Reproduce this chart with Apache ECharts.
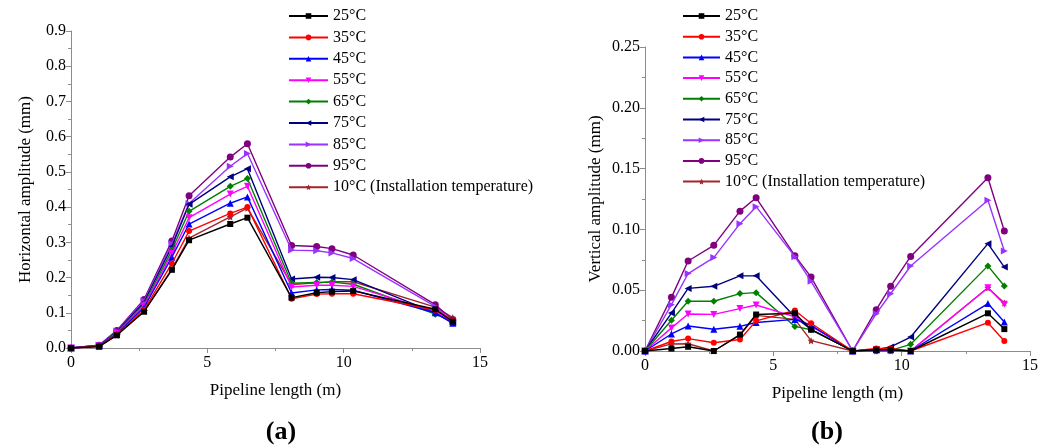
<!DOCTYPE html>
<html>
<head>
<meta charset="utf-8">
<script src="https://cdn.jsdelivr.net/npm/echarts@6/dist/echarts.min.js"></script>
<style>
html,body{margin:0;padding:0;background:#fff;}
#c{width:1041px;height:445px;}
</style>
</head>
<body>
<div id="c"></div>
<script>
// Pipeline positions (m)
var positions = [0, 1.03, 1.68, 2.68, 3.7, 4.33, 5.84, 6.47, 8.09, 9.01, 9.57, 10.35, 13.36, 14.0];
var seriesNames = ['25°C','35°C','45°C','55°C','65°C','75°C','85°C','95°C','10°C (Installation temperature)'];

// (a) Horizontal amplitude (mm)
var h25 = [0, 0.004, 0.036, 0.103, 0.222, 0.306, 0.352, 0.370, 0.143, 0.157, 0.160, 0.162, 0.110, 0.075];
var h35 = [0, 0.005, 0.038, 0.108, 0.240, 0.332, 0.382, 0.400, 0.140, 0.153, 0.154, 0.154, 0.108, 0.078];
var h45 = [0, 0.006, 0.040, 0.115, 0.258, 0.352, 0.411, 0.429, 0.156, 0.165, 0.166, 0.164, 0.100, 0.070];
var h55 = [0, 0.006, 0.042, 0.120, 0.268, 0.370, 0.437, 0.459, 0.173, 0.178, 0.178, 0.175, 0.104, 0.075];
var h65 = [0, 0.007, 0.044, 0.125, 0.278, 0.388, 0.459, 0.481, 0.184, 0.186, 0.187, 0.181, 0.096, 0.075];
var h75 = [0, 0.007, 0.046, 0.130, 0.288, 0.408, 0.486, 0.509, 0.196, 0.201, 0.200, 0.194, 0.100, 0.072];
var h85 = [0, 0.008, 0.048, 0.134, 0.296, 0.410, 0.516, 0.552, 0.278, 0.276, 0.270, 0.254, 0.118, 0.074];
var h95 = [0, 0.008, 0.050, 0.138, 0.304, 0.432, 0.542, 0.580, 0.291, 0.288, 0.282, 0.264, 0.123, 0.080];
var h10 = [0, 0.005, 0.037, 0.105, 0.224, 0.312, 0.372, 0.397, 0.180, 0.185, 0.188, 0.188, 0.116, 0.086];

// (b) Vertical amplitude (mm)
var v25 = [0, 0.0020, 0.0035, 0, 0.0135, 0.0300, 0.0310, 0.0175, 0, 0.0010, 0.0010, 0, 0.0310, 0.0180];
var v35 = [0, 0.0078, 0.0102, 0.0068, 0.0095, 0.0248, 0.0333, 0.0228, 0, 0.0020, 0.0020, 0, 0.0233, 0.0082];
var v45 = [0, 0.0140, 0.0206, 0.0179, 0.0203, 0.0234, 0.0260, 0.0210, 0, 0.0010, 0.0010, 0, 0.0390, 0.0238];
var v55 = [0, 0.0190, 0.0304, 0.0301, 0.0349, 0.0378, 0.0280, 0.0205, 0, 0.0010, 0, 0, 0.0520, 0.0385];
var v65 = [0, 0.0253, 0.0409, 0.0409, 0.0472, 0.0480, 0.0202, 0.0175, 0, 0, 0.0005, 0.0055, 0.0700, 0.0535];
var v75 = [0, 0.0312, 0.0515, 0.0532, 0.0618, 0.0618, 0.0280, 0.0178, 0, 0.0010, 0.0033, 0.0115, 0.0883, 0.0690];
var v85 = [0, 0.0381, 0.0637, 0.0768, 0.1047, 0.1187, 0.0776, 0.0573, 0, 0.0307, 0.0471, 0.0699, 0.1240, 0.0822];
var v95 = [0, 0.0441, 0.0740, 0.0869, 0.1150, 0.1260, 0.0784, 0.0608, 0, 0.0340, 0.0532, 0.0778, 0.1425, 0.0987];
var v10 = [0, 0.0058, 0.0060, 0, 0.0130, 0.0293, 0.0260, 0.0085, 0, 0, 0, 0, 0.0520, 0.0395];

var hTicks = [0, 0.1, 0.2, 0.3, 0.4, 0.5, 0.6, 0.7, 0.8, 0.9];
var vTicks = [0, 0.05, 0.10, 0.15, 0.20, 0.25];
var xTicks = [0, 5, 10, 15];

var hData = [h25,h35,h45,h55,h65,h75,h85,h95,h10];
var vData = [v25,v35,v45,v55,v65,v75,v85,v95,v10];

var colors = ['#000000','#ff0000','#0000ff','#ff00ff','#008000','#000080','#9a33ff','#800080','#a3262a'];
var star = 'path://M0,-10 L2.9,-4 L9.5,-3.1 L4.7,1.5 L5.9,8.1 L0,5 L-5.9,8.1 L-4.7,1.5 L-9.5,-3.1 L-2.9,-4 Z';
var symbols = ['rect','circle','triangle','triangle','diamond','triangle','triangle','circle',star];
var rotations = [0,0,0,180,0,90,-90,0,0];
var sizes = [6,6,7,7,7,7,7,7,7];

var serif = 'Liberation Serif';

function pairs(arr){ return positions.map(function(x,i){ return [x, arr[i]]; }); }

var series = [];
[hData, vData].forEach(function(set, g){
  set.forEach(function(arr, i){
    series.push({
      name: seriesNames[i], type:'line', xAxisIndex:g, yAxisIndex:g,
      data: pairs(arr), symbol: symbols[i], symbolRotate: rotations[i], symbolSize: sizes[i],
      showAllSymbol:true, animation:false,
      lineStyle:{color:colors[i], width:1.4},
      itemStyle:{color:colors[i]},
      z: 10 - i
    });
  });
});

function xAxis(g){
  return {
    type:'value', gridIndex:g, min:0, max:15, interval:5,
    name:'Pipeline length (m)', nameLocation:'middle', nameGap:34,
    nameTextStyle:{fontFamily:serif, fontSize:17, color:'#000'},
    axisLine:{show:true, lineStyle:{color:'#8c8c8c', width:1}},
    axisTick:{show:true, length:5, lineStyle:{color:'#8c8c8c'}},
    minorTick:{show:true, splitNumber:2, length:3, lineStyle:{color:'#8c8c8c'}},
    splitLine:{show:false},
    axisLabel:{fontFamily:serif, fontSize:16, color:'#000', margin:7}
  };
}
function yAxis(g, max, step, dec, name){
  return {
    type:'value', gridIndex:g, min:0, max:max, interval:step,
    name:name, nameLocation:'middle', nameGap: dec===1 ? 37 : 41,
    nameTextStyle:{fontFamily:serif, fontSize:17, color:'#000'},
    axisLine:{show:true, lineStyle:{color:'#8c8c8c', width:1}},
    axisTick:{show:true, length:5, lineStyle:{color:'#8c8c8c'}},
    minorTick:{show:true, splitNumber:2, length:3, lineStyle:{color:'#8c8c8c'}},
    splitLine:{show:false},
    axisLabel:{fontFamily:serif, fontSize:16, color:'#000', margin:5,
      formatter:function(v){ return v.toFixed(dec); }}
  };
}

var legendCommon = {orient:'vertical', itemHeight:7, padding:0, selectedMode:false,
  data:seriesNames, textStyle:{fontFamily:serif, fontSize:16, color:'#000'}};

var chart = echarts.init(document.getElementById('c'), null, {renderer:'canvas'});
chart.setOption({
  backgroundColor:'#ffffff',
  animation:false,
  title:[
    {text:'(a)', left:276, top:414, textAlign:'center',
      textStyle:{fontFamily:serif, fontWeight:'bold', fontSize:26, color:'#000'}},
    {text:'(b)', left:822, top:414, textAlign:'center',
      textStyle:{fontFamily:serif, fontWeight:'bold', fontSize:26, color:'#000'}}
  ],
  legend:[
    Object.assign({}, legendCommon, {left:288, top:8, itemWidth:39, itemGap:5.4}),
    Object.assign({}, legendCommon, {left:682, top:8, itemWidth:37, itemGap:4.7})
  ],
  grid:[
    {left:71, top:31, width:409, height:317},
    {left:645, top:47, width:392, height:304}
  ],
  xAxis:[xAxis(0), xAxis(1)],
  yAxis:[
    yAxis(0, 0.9, 0.1, 1, 'Horizontal amplitude (mm)'),
    yAxis(1, 0.25, 0.05, 2, 'Vertical amplitude (mm)')
  ],
  series:series
});
</script>
</body>
</html>
